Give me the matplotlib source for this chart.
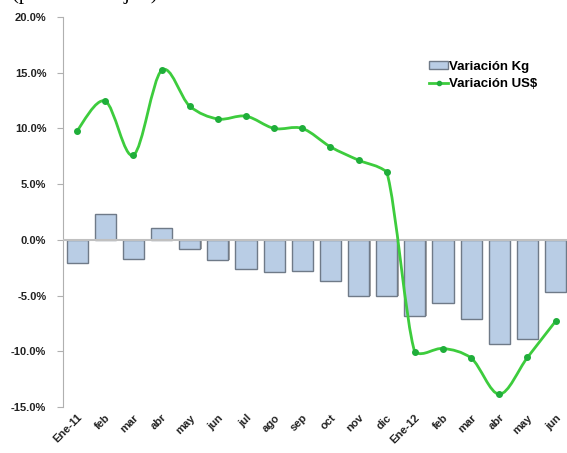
import matplotlib.pyplot as plt
from matplotlib.path import Path
from matplotlib.patches import PathPatch
from matplotlib.lines import Line2D
from matplotlib.patches import Patch
import numpy as np

plt.rcParams['font.family'] = ['Liberation Sans', 'DejaVu Sans']

months = ["Ene-11", "feb", "mar", "abr", "may", "jun", "jul", "ago", "sep",
          "oct", "nov", "dic", "Ene-12", "feb", "mar", "abr", "may", "jun"]
var_kg = [-2.1, 2.3, -1.7, 1.1, -0.85, -1.85, -2.6, -2.9, -2.8,
          -3.7, -5.0, -5.05, -6.8, -5.65, -7.1, -9.35, -8.9, -4.7]
var_usd = [9.8, 12.45, 7.6, 15.2, 12.0, 10.85, 11.1, 10.0, 10.0,
           8.35, 7.15, 6.1, -10.1, -9.75, -10.6, -13.85, -10.55, -7.3]
y_ticks = [-15, -10, -5, 0, 5, 10, 15, 20]

green = "#3dcc3d"
dot = "#1fae3a"


def smooth_path(xs, ys):
    # Excel-like smoothed line: cubic bezier segments through every point
    pts = np.column_stack([xs, ys]).astype(float)
    verts = [pts[0]]
    codes = [Path.MOVETO]
    n = len(pts)
    for i in range(n - 1):
        p0 = pts[i - 1] if i > 0 else pts[i]
        p1 = pts[i]
        p2 = pts[i + 1]
        p3 = pts[i + 2] if i + 2 < n else pts[i + 1]
        c1 = p1 + (p2 - p0) / 6.0
        c2 = p2 - (p3 - p1) / 6.0
        # keep the bends tight around big jumps
        c1[1] = p1[1] + np.clip(c1[1] - p1[1], -abs(p2[1] - p1[1]) / 3 - 0.3,
                                abs(p2[1] - p1[1]) / 3 + 0.3)
        c2[1] = p2[1] + np.clip(c2[1] - p2[1], -abs(p2[1] - p1[1]) / 3 - 0.3,
                                abs(p2[1] - p1[1]) / 3 + 0.3)
        verts += [c1, c2, p2]
        codes += [Path.CURVE4] * 3
    return Path(verts, codes)


fig = plt.figure(figsize=(5.67, 4.53), dpi=100)
ax = fig.add_axes([63 / 567, 1 - 407 / 453, 18 * 28.15 / 567, 390 / 453])

x = np.arange(len(months))
ax.bar(x + 0.05, var_kg, width=0.75, color="#a8a8a8", edgecolor="none", zorder=1)
ax.bar(x, var_kg, width=0.75, color="#b9cde5", edgecolor="#6f7a88",
       linewidth=1.0, zorder=2)
ax.axhline(0, color="#c0c0c0", linewidth=1.5, zorder=3)

ax.add_patch(PathPatch(smooth_path(x, var_usd), facecolor="none",
                       edgecolor=green, linewidth=2.0, zorder=4))
ax.plot(x, var_usd, linestyle="none", marker="o", markersize=4,
        color=dot, zorder=5)

ax.set_xlim(-0.5, len(months) - 0.5)
ax.set_ylim(-15, 20)
ax.set_yticks(y_ticks)
ax.set_yticklabels(["%.1f%%" % v for v in y_ticks], fontsize=8, fontweight="bold",
                   color="#222222")
ax.set_xticks(x)
ax.set_xticklabels(months, rotation=45, ha="right", rotation_mode="anchor",
                   fontsize=8, fontweight="bold", color="#222222")
ax.tick_params(axis="x", length=0, pad=4)
ax.tick_params(axis="y", length=4, color="#b0b0b0", direction="out", pad=8)

for s in ["top", "right", "bottom"]:
    ax.spines[s].set_visible(False)
ax.spines["left"].set_color("#b0b0b0")

handles = [Patch(facecolor="#b9cde5", edgecolor="#6f7a88", label="Variación Kg"),
           Line2D([0], [0], color=green, linewidth=2, marker="o", markersize=3,
                  markerfacecolor=dot, markeredgecolor=dot, label="Variación US$")]
leg = ax.legend(handles=handles, loc="upper left", bbox_to_anchor=(0.705, 0.912),
                frameon=False, prop={"weight": "bold", "size": 9.5},
                handlelength=1.4, handleheight=0.6, handletextpad=0.1,
                labelspacing=0.45, borderpad=0.2)

fig.text(12 / 567, 1.012, "(período ene-jun)", family="Liberation Serif",
         fontsize=15, va="center", ha="left")

fig.savefig("out.png", dpi=100)
